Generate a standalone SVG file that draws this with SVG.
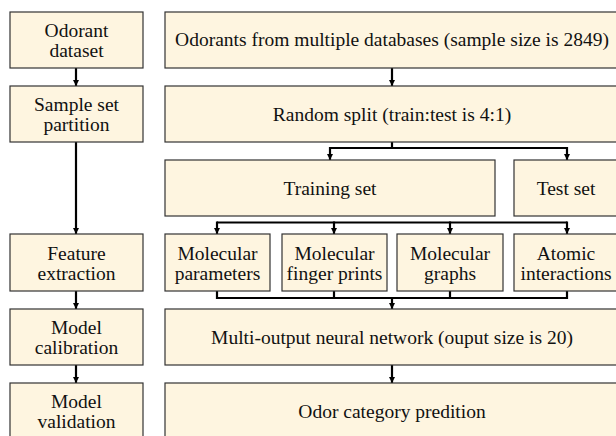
<svg xmlns="http://www.w3.org/2000/svg" width="616" height="436" viewBox="0 0 616 436">
<style>
.box{fill:#FEF5E0;stroke:#333;stroke-width:1.2}
text{font-family:'Liberation Serif','Times New Roman',serif;font-size:19.5px;fill:#111;text-anchor:middle}
.c{fill:none;stroke:#000;stroke-width:2.2}
</style>
<defs>
<marker id="ah" viewBox="0 0 6 6" refX="6" refY="3" markerWidth="6" markerHeight="6" markerUnits="userSpaceOnUse" orient="auto">
<path d="M0,0 L6,3 L0,6 Z" fill="#000"/>
</marker>
</defs>
<rect width="616" height="436" fill="#fff"/>
<g id="connectors">
<path class="c" d="M76,68 V86" marker-end="url(#ah)"/>
<path class="c" d="M76,142 V234" marker-end="url(#ah)"/>
<path class="c" d="M76,291 V309" marker-end="url(#ah)"/>
<path class="c" d="M76,365 V383" marker-end="url(#ah)"/>
<path class="c" d="M392,68 V86" marker-end="url(#ah)"/>
<path class="c" d="M392,142 V148"/>
<path class="c" d="M330,148 H567"/>
<path class="c" d="M330,147 V160" marker-end="url(#ah)"/>
<path class="c" d="M567,147 V160" marker-end="url(#ah)"/>
<path class="c" d="M217,222.5 H567"/>
<path class="c" d="M217,221.5 V234" marker-end="url(#ah)"/>
<path class="c" d="M334,221.5 V234" marker-end="url(#ah)"/>
<path class="c" d="M450,221.5 V234" marker-end="url(#ah)"/>
<path class="c" d="M567,221.5 V234" marker-end="url(#ah)"/>
<path class="c" d="M217,291 V298 H567 V291"/>
<path class="c" d="M334,291 V298"/>
<path class="c" d="M450,291 V298"/>
<path class="c" d="M392,297 V309" marker-end="url(#ah)"/>
<path class="c" d="M392,365 V383" marker-end="url(#ah)"/>
</g>
<g id="n-odorant-dataset"><rect class="box" x="10" y="12" width="133" height="56"/><text x="76.5" y="37">Odorant</text><text x="76.5" y="57">dataset</text></g>
<g id="n-sample-set"><rect class="box" x="10" y="86" width="133" height="56"/><text x="76.5" y="111">Sample set</text><text x="76.5" y="131">partition</text></g>
<g id="n-feature-extraction"><rect class="box" x="10" y="234" width="133" height="57"/><text x="76.5" y="259.5">Feature</text><text x="76.5" y="279.5">extraction</text></g>
<g id="n-model-calibration"><rect class="box" x="10" y="309" width="133" height="56"/><text x="76.5" y="334">Model</text><text x="76.5" y="354">calibration</text></g>
<g id="n-model-validation"><rect class="box" x="10" y="383" width="133" height="60"/><text x="76.5" y="408">Model</text><text x="76.5" y="428">validation</text></g>
<g id="n-odorants"><rect class="box" x="165" y="12" width="455" height="56"/><text x="392" y="46">Odorants from multiple databases (sample size is 2849)</text></g>
<g id="n-random-split"><rect class="box" x="165" y="86" width="455" height="56"/><text x="392" y="120.5">Random split (train:test is 4:1)</text></g>
<g id="n-training"><rect class="box" x="165" y="160" width="330" height="56"/><text x="330" y="194.5">Training set</text></g>
<g id="n-test"><rect class="box" x="514" y="160" width="106" height="56"/><text x="566" y="194.5">Test set</text></g>
<g id="n-mol-params"><rect class="box" x="165" y="234" width="105" height="57"/><text x="217.5" y="259.5">Molecular</text><text x="217.5" y="279.5">parameters</text></g>
<g id="n-mol-fp"><rect class="box" x="282" y="234" width="105" height="57"/><text x="334.5" y="259.5">Molecular</text><text x="334.5" y="279.5">finger prints</text></g>
<g id="n-mol-graphs"><rect class="box" x="397" y="234" width="106" height="57"/><text x="450" y="259.5">Molecular</text><text x="450" y="279.5">graphs</text></g>
<g id="n-atomic"><rect class="box" x="514" y="234" width="106" height="57"/><text x="566" y="259.5">Atomic</text><text x="566" y="279.5">interactions</text></g>
<g id="n-nn"><rect class="box" x="165" y="309" width="455" height="56"/><text x="392" y="344">Multi-output neural network (ouput size is 20)</text></g>
<g id="n-odor-pred"><rect class="box" x="165" y="383" width="455" height="60"/><text x="392" y="418">Odor category predition</text></g>
</svg>
